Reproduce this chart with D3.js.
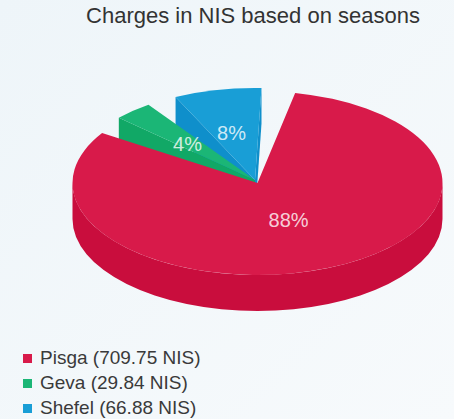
<!DOCTYPE html>
<html>
<head>
<meta charset="utf-8">
<script src="https://d3js.org/d3.v7.min.js"></script>
<style>
  body { margin: 0; }
  svg { display: block; font-family: "Liberation Sans", Arial, sans-serif; }
</style>
</head>
<body>
<div id="chart"></div>
<script>
// data
var categories = ["Pisga", "Geva", "Shefel"];
var values = [709.75, 29.84, 66.88];
var unit = "NIS";
var title = "Charges in NIS based on seasons";

var width = 454, height = 419;
var cx = 255, cy = 180, rx = 185, ry = 92, depth = 36;

var topColor = d3.scaleOrdinal().domain(categories).range(["#d81a4a", "#1bb676", "#199ed6"]);
var sideColor = d3.scaleOrdinal().domain(categories).range(["#c90d3d", "#11a866", "#0f8fcb"]);

var rows = categories.map((c, i) => ({ name: c, value: values[i] }));
var total = d3.sum(values);

var start = 0.12;
var pie = d3.pie().value(d => d.value).sort(null)
    .padAngle(0.17).startAngle(start).endAngle(start + 2 * Math.PI);
var slices = pie(rows);

var svg = d3.select("#chart").append("svg")
    .attr("width", width).attr("height", height);

var grad = svg.append("defs").append("linearGradient")
    .attr("id", "bg").attr("x1", 0).attr("y1", 0).attr("x2", 1).attr("y2", 1);
grad.append("stop").attr("offset", "0%").attr("stop-color", "#eef5f9");
grad.append("stop").attr("offset", "100%").attr("stop-color", "#f7fafc");
svg.append("rect").attr("width", width).attr("height", height).attr("fill", "url(#bg)");

svg.append("text")
    .attr("x", 253).attr("y", 23)
    .attr("text-anchor", "middle")
    .attr("font-size", 22)
    .attr("fill", "#333")
    .text(title);

// point on the tilted disc
function pt(a, r, dz) {
  return [cx + r * rx * Math.sin(a), cy - r * ry * Math.cos(a) + (dz || 0)];
}
function P(p) { return p[0].toFixed(2) + "," + p[1].toFixed(2); }

// back slices first
slices.forEach(d => {
  d.a0 = d.startAngle + d.padAngle / 2;
  d.a1 = d.endAngle - d.padAngle / 2;
  d.mid = (d.a0 + d.a1) / 2;
});
var order = slices.slice().sort((a, b) => -Math.cos(a.mid) + Math.cos(b.mid));

var pieG = svg.append("g");

order.forEach(d => {
  var name = d.data.name;
  // big slice pulled a little toward the viewer
  var ex = d.index === 0 ? 0.035 : 0;
  var off = [ex * rx * Math.sin(d.mid), -ex * ry * Math.cos(d.mid)];
  var g = pieG.append("g").attr("transform", "translate(" + off[0] + "," + off[1] + ")");

  // radial faces visible from the front
  if (Math.sin(d.a0) < 0) {
    g.append("path")
      .attr("d", "M" + P([cx, cy]) + "L" + P(pt(d.a0, 1)) + "L" + P(pt(d.a0, 1, depth)) + "L" + P([cx, cy + depth]) + "Z")
      .attr("fill", sideColor(name));
  }
  if (Math.sin(d.a1) > 0) {
    g.append("path")
      .attr("d", "M" + P([cx, cy]) + "L" + P(pt(d.a1, 1)) + "L" + P(pt(d.a1, 1, depth)) + "L" + P([cx, cy + depth]) + "Z")
      .attr("fill", sideColor(name));
  }

  // outer wall, front part only
  [0, 2 * Math.PI].forEach(k => {
    var s = Math.max(d.a0, Math.PI / 2 + k), e = Math.min(d.a1, 3 * Math.PI / 2 + k);
    if (s < e) {
      g.append("path")
        .attr("d", "M" + P(pt(s, 1)) + "A" + rx + "," + ry + " 0 0 1 " + P(pt(e, 1)) +
          "L" + P(pt(e, 1, depth)) + "A" + rx + "," + ry + " 0 0 0 " + P(pt(s, 1, depth)) + "Z")
        .attr("fill", sideColor(name));
    }
  });

  // top face
  var large = (d.a1 - d.a0) > Math.PI ? 1 : 0;
  g.append("path")
    .attr("d", "M" + P([cx, cy]) + "L" + P(pt(d.a0, 1)) + "A" + rx + "," + ry + " 0 " + large + " 1 " + P(pt(d.a1, 1)) + "Z")
    .attr("fill", topColor(name));
});

// percent labels
pieG.selectAll("text.pct")
  .data(slices)
  .join("text")
  .attr("class", "pct")
  .attr("x", d => pt(d.mid, d.index === 0 ? 0.47 : 0.52)[0] - (d.index === 0 ? 0 : 4))
  .attr("y", d => pt(d.mid, d.index === 0 ? 0.47 : 0.52)[1])
  .attr("dy", "0.35em")
  .attr("text-anchor", "middle")
  .attr("font-size", 20)
  .attr("fill", "#fff")
  .attr("fill-opacity", 0.8)
  .text(d => Math.round(d.data.value / total * 100) + "%");

// legend
var legend = svg.append("g").attr("transform", "translate(23,358)");
var item = legend.selectAll("g")
  .data(rows)
  .join("g")
  .attr("transform", (d, i) => "translate(0," + (i * 25) + ")");
item.append("rect")
  .attr("x", 0).attr("y", -4)
  .attr("width", 9).attr("height", 9)
  .attr("fill", d => topColor(d.name));
item.append("text")
  .attr("x", 17).attr("y", 6)
  .attr("font-size", 19)
  .attr("fill", "#3a3a3a")
  .text(d => d.name + " (" + d.value.toFixed(2) + " " + unit + ")");
</script>
</body>
</html>
